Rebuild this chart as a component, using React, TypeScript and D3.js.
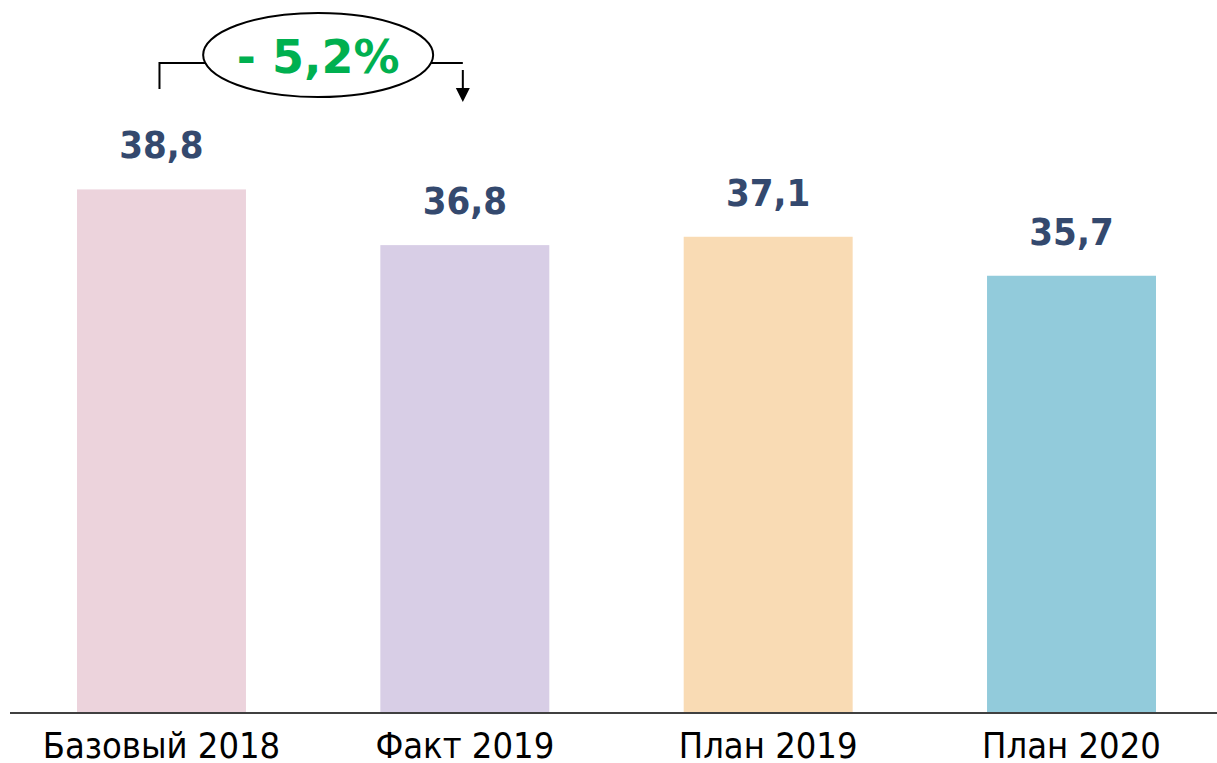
import React, { useEffect, useRef } from 'react';
import * as d3 from 'd3';

const categories = ['Базовый 2018', 'Факт 2019', 'План 2019', 'План 2020'];
const values = [38.8, 36.8, 37.1, 35.7];
const valueLabels = ['38,8', '36,8', '37,1', '35,7'];
const barColors = ['#ecd3dc', '#d8cee6', '#f9dbb4', '#92cbdb'];
const changeLabel = '- 5,2%';

const W = 1217;
const H = 763;

export default function App() {
  const ref = useRef<SVGSVGElement>(null);

  useEffect(() => {
    const svg = d3.select(ref.current);
    svg.selectAll('*').remove();

    const x = d3.scaleBand().domain(categories).range([77, 1156]).paddingInner(0.443).paddingOuter(0);
    const y = d3.scaleLinear().domain([20, 40]).range([713, 156]);

    // bars
    svg
      .append('g')
      .selectAll('rect')
      .data(values)
      .enter()
      .append('rect')
      .attr('x', (d, i) => x(categories[i]) as number)
      .attr('y', (d) => y(d))
      .attr('width', x.bandwidth())
      .attr('height', (d) => y(20) - y(d))
      .attr('fill', (d, i) => barColors[i]);

    // value labels
    svg
      .append('g')
      .selectAll('text')
      .data(values)
      .enter()
      .append('text')
      .attr('x', (d, i) => (x(categories[i]) as number) + x.bandwidth() / 2)
      .attr('y', (d) => y(d) - 31)
      .attr('text-anchor', 'middle')
      .style('font-family', '"DejaVu Sans Condensed", "DejaVu Sans", sans-serif')
      .style('font-weight', 'bold')
      .style('font-size', '38px')
      .style('fill', '#34496e')
      .text((d, i) => valueLabels[i]);

    // baseline
    svg
      .append('line')
      .attr('x1', 10)
      .attr('x2', 1217)
      .attr('y1', y(20))
      .attr('y2', y(20))
      .attr('stroke', '#404040')
      .attr('stroke-width', 2);

    // category labels
    svg
      .append('g')
      .selectAll('text')
      .data(categories)
      .enter()
      .append('text')
      .attr('x', (d) => (x(d) as number) + x.bandwidth() / 2)
      .attr('y', y(20) + 45)
      .attr('text-anchor', 'middle')
      .style('font-family', '"DejaVu Sans Condensed", "DejaVu Sans", sans-serif')
      .style('font-size', '36px')
      .style('fill', '#000')
      .text((d) => d);

    // change annotation between first two bars
    const x0 = (x(categories[0]) as number) + x.bandwidth() / 2 - 2;
    const x1 = (x(categories[1]) as number) + x.bandwidth() / 2 - 2;
    const cx = (x0 + x1) / 2 + 7;
    const ly = 63;
    const ann = svg.append('g');
    ann
      .append('path')
      .attr('d', `M${x0},89 V${ly} H${cx - 110} M${cx + 110},${ly} H${x1}`)
      .attr('fill', 'none')
      .attr('stroke', '#000')
      .attr('stroke-width', 2);
    ann
      .append('line')
      .attr('x1', x1)
      .attr('x2', x1)
      .attr('y1', 70)
      .attr('y2', 90)
      .attr('stroke', '#000')
      .attr('stroke-width', 2);
    ann
      .append('path')
      .attr('d', `M${x1 - 7},88 L${x1 + 7},88 L${x1},102 Z`)
      .attr('fill', '#000');
    ann
      .append('ellipse')
      .attr('cx', cx)
      .attr('cy', 55)
      .attr('rx', 115)
      .attr('ry', 42)
      .attr('fill', '#fff')
      .attr('stroke', '#000')
      .attr('stroke-width', 2);
    ann
      .append('text')
      .attr('x', cx)
      .attr('y', 73)
      .attr('text-anchor', 'middle')
      .style('font-family', '"DejaVu Sans", sans-serif')
      .style('font-weight', 'bold')
      .style('font-size', '46px')
      .style('fill', '#00b050')
      .text(changeLabel);
  }, []);

  return <svg ref={ref} width={W} height={H} style={{ position: 'absolute', left: 0, top: 0, background: '#fff' }} />;
}
